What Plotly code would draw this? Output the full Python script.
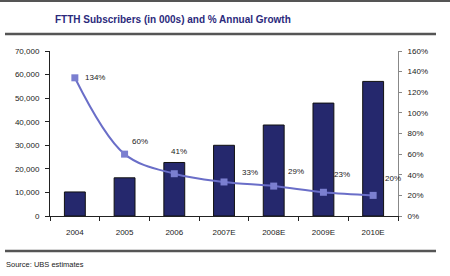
import plotly.graph_objects as go

categories = ["2004", "2005", "2006", "2007E", "2008E", "2009E", "2010E"]
subscribers = [10200, 16200, 22700, 30000, 38600, 47900, 57100]
growth = [1.34, 0.60, 0.41, 0.33, 0.29, 0.23, 0.20]
growth_labels = ["134%", "60%", "41%", "33%", "29%", "23%", "20%"]
left_ticks = [0, 10000, 20000, 30000, 40000, 50000, 60000, 70000]
right_ticks = [0, 0.2, 0.4, 0.6, 0.8, 1.0, 1.2, 1.4, 1.6]

title_text = "FTTH Subscribers (in 000s) and % Annual Growth"
source_text = "Source: UBS estimates"

FONT = "Liberation Sans, Arial, sans-serif"
TXT = "#222222"

W, H = 450, 276
ml, mr, mt, mb = 50, 52, 51, 60


def px_x(p):
    return (p - ml) / (W - ml - mr)


def px_y(p):
    return (H - mb - p) / (H - mt - mb)


# label offsets (style only): (xanchor, xshift, yshift)
label_pos = [
    ("left", 8, 0),
    ("left", 5, 13),
    ("center", 5, 22),
    ("left", 16, 9),
    ("left", 12, 15),
    ("left", 9, 18),
    ("left", 10, 17),
]

fig = go.Figure()
fig.add_trace(go.Bar(
    x=categories, y=subscribers, width=0.42,
    marker=dict(color="#25286d", line=dict(color="#111111", width=1)),
    yaxis="y", showlegend=False,
))
fig.add_trace(go.Scatter(
    x=categories, y=growth, mode="lines+markers",
    line=dict(color="#6a6ec8", width=2, shape="spline", smoothing=1.0),
    marker=dict(symbol="square", size=7, color="#7b7fd0"),
    yaxis="y2", showlegend=False,
))

# category index used as annotation x (numeric-looking category names
# would otherwise be read as raw positions)
for i, (g, lab, (xa, xs, ys)) in enumerate(zip(growth, growth_labels, label_pos)):
    fig.add_annotation(
        x=i, y=g, xref="x", yref="y2", text=lab, showarrow=False,
        xanchor=xa, yanchor="middle", xshift=xs, yshift=ys,
        font=dict(family=FONT, size=8, color=TXT),
    )

fig.add_annotation(
    x=px_x(53), y=px_y(20), xref="paper", yref="paper",
    text="<b>" + title_text + "</b>",
    showarrow=False, xanchor="left", yanchor="middle",
    font=dict(family=FONT, size=10, color="#2b2a7c"),
)
fig.add_annotation(
    x=px_x(4), y=px_y(264), xref="paper", yref="paper", text=source_text,
    showarrow=False, xanchor="left", yanchor="middle",
    font=dict(family=FONT, size=7.5, color=TXT),
)

# rule lines
for (x0, x1, y, w) in [(0, 450, 1, 2), (5, 436, 34, 2.5), (5, 436, 251, 2.5)]:
    fig.add_shape(type="line", xref="paper", yref="paper",
                  x0=px_x(x0), x1=px_x(x1), y0=px_y(y), y1=px_y(y),
                  line=dict(color="#555555", width=w))

fig.update_layout(
    width=W, height=H,
    margin=dict(l=ml, r=mr, t=mt, b=mb, pad=0),
    paper_bgcolor="white", plot_bgcolor="white",
    xaxis=dict(
        type="category", range=[-0.5, 6.5], showgrid=False,
        showline=True, linecolor="#222222", linewidth=1,
        ticks="outside", ticklen=4, tickcolor="#222222", tickson="boundaries",
        tickfont=dict(family=FONT, size=8, color=TXT), ticklabelstandoff=8,
    ),
    yaxis=dict(
        range=[0, 70000], tickvals=left_ticks, tickformat=",d",
        showgrid=False, zeroline=False,
        showline=True, linecolor="#222222", linewidth=1,
        ticks="outside", ticklen=4, tickcolor="#222222",
        tickfont=dict(family=FONT, size=8, color=TXT), ticklabelstandoff=4,
    ),
    yaxis2=dict(
        range=[0, 1.6], tickvals=right_ticks, tickformat=".0%",
        overlaying="y", side="right", anchor="x",
        showgrid=False, zeroline=False,
        showline=True, linecolor="#888888", linewidth=1,
        ticks="outside", ticklen=3, tickcolor="#888888",
        tickfont=dict(family=FONT, size=8, color=TXT), ticklabelstandoff=4,
    ),
)

fig.write_html("out.html")
